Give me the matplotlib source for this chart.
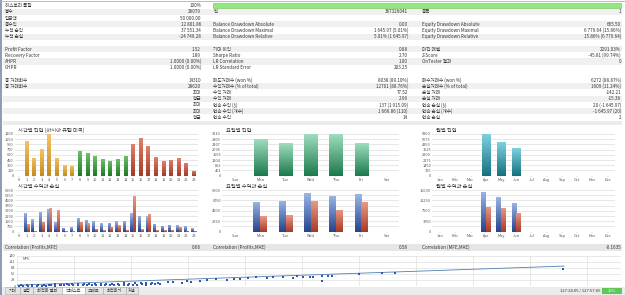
import matplotlib
matplotlib.use('Agg')
import numpy as np
import matplotlib.pyplot as plt
from matplotlib.patches import Rectangle
from matplotlib.colors import LinearSegmentedColormap

plt.rcParams['font.family'] = ['Noto Sans CJK KR', 'DejaVu Sans']

W, H = 625, 295

# ---- summary table (label, value) per column ----
col1 = [('히스토리 품질', '100%'), ('봉수', '26079'), ('입금액', '50 000.00'),
        ('총수익', '12 801.86'), ('누적 순익', '37 551.34'), ('누적 손실', '-24 749.28'),
        ('', ''), ('Profit Factor', '1.52'), ('Recovery Factor', '1.89'),
        ('AHPR', '1.0000 (0.00%)'), ('GHPR', '1.0000 (0.00%)'), ('', ''),
        ('총 거래회수', '14310'), ('총 거래회수', '28620'), ('', '최대'),
        ('', '평균'), ('', '최대'), ('', '최대'), ('', '평균')]
col2 = [('', ''), ('틱', '367326041'), ('', ''),
        ('Balance Drawdown Absolute', '0.00'), ('Balance Drawdown Maximal', '1 645.97 (5.01%)'),
        ('Balance Drawdown Relative', '5.01% (1 645.97)'), ('', ''),
        ('기대 이익', '0.88'), ('Sharpe Ratio', '2.70'), ('LR Correlation', '1.00'),
        ('LR Standard Error', '203.25'), ('', ''),
        ('매도거래수 (won %)', '8038 (89.10%)'), ('수익거래수 (% of total)', '12701 (88.76%)'),
        ('수익 거래', '77.52'), ('수익 거래', '2.96'), ('연속 수익 ($)', '137 (1 915.09)'),
        ('연속 수익 (개수)', '1 666.86 (110)'), ('연속 수익', '14')]
col3 = [('', ''), ('종목', '1'), ('', ''),
        ('Equity Drawdown Absolute', '665.50'), ('Equity Drawdown Maximal', '6 779.64 (15.86%)'),
        ('Equity Drawdown Relative', '15.86% (6 779.64)'), ('', ''),
        ('마진 레벨', '2291.03%'), ('Z-Score', '-45.81 (99.74%)'), ('OnTester 결과', '0'),
        ('', ''), ('', ''),
        ('매수거래수 (won %)', '6272 (88.87%)'), ('손실거래수 (% of total)', '1609 (11.24%)'),
        ('손실 거래', '-142.21'), ('손실 거래', '-15.38'), ('연속 손실 ($)', '20 (-1 645.97)'),
        ('연속 손실 (개수)', '-1 645.97 (20)'), ('연속 손실', '2')]

correlations = [('Correlation (Profits,MFE)', '0.66'),
                ('Correlation (Profits,MAE)', '0.58'),
                ('Correlation (MFE,MAE)', '-0.1635')]

# ---- chart data ----
hours = list(range(24))
hour_entries = [0, 987, 523, 755, 1200, 523, 310, 290, 697, 648, 571, 484,
                435, 474, 571, 919, 1084, 842, 542, 426, 465, 503, 377, 145]
hour_profit = [0, 2736, 1824, 2880, 3264, 1392, 576, 624, 2016, 1728, 1488, 1248,
               1296, 1488, 1584, 2688, 2304, 2208, 1152, 864, 1008, 960, 768, 480]
hour_loss = [0, 1056, 40, 1440, 3408, 3120, 100, 50, 1440, 1200, 432, 240,
             720, 960, 288, 5184, 336, 2496, 240, 240, 240, 624, 150, 50]

weekdays = ['Sun', 'Mon', 'Tue', 'Wed', 'Thu', 'Fri', 'Sat']
day_entries = [0, 2802, 2540, 3205, 3210, 2540, 0]
day_entry_ticks = ['0', '401', '802', '1204', '1605', '2006', '2407', '2809', '3210']
day_profit = [0, 6480, 6696, 8280, 7776, 8064, 0]
day_loss = [0, 3384, 3600, 6624, 4752, 6336, 0]

months = ['Jan', 'Feb', 'Mar', 'Apr', 'May', 'Jun', 'Jul', 'Aug', 'Sep', 'Oct', 'Nov', 'Dec']
month_entries = [0, 0, 0, 5800, 4687, 3811, 0, 0, 0, 0, 0, 0]
month_profit = [0, 0, 0, 14400, 12600, 10440, 0, 0, 0, 0, 0, 0]
month_loss = [0, 0, 0, 9000, 8640, 6840, 0, 0, 0, 0, 0, 0]

# MFE / profit scatter (bottom strip)
mfe = [0.3, 1.1, 1.9, 2.7, 3.5, 4.3, 5.1, 5.9, 6.7, 7.5, 8.3, 9.1, 9.9, 10.7, 11.5, 12.3,
       13.1, 13.9, 14.7, 15.5, 16.3, 17.1, 17.9, 18.7, 19.5, 20.3, 21.1, 21.9, 22.7, 23.5,
       24.3, 25.1,
       0.7, 1.7, 2.7, 3.7, 4.7, 5.7, 6.7, 7.7, 8.7, 9.7, 10.7, 11.7, 12.7, 13.7, 14.7, 15.7,
       16.7, 17.7, 18.7, 19.7, 20.7, 21.7, 22.7, 23.7, 24.7,
       26.5, 27.4, 28.9, 29.8, 30.6, 32.1, 33.3, 35.0, 36.8, 38.0, 39.1, 40.6, 42.0, 43.8,
       45.0, 46.7, 48.5, 49.1, 50.2, 51.4, 52.0, 53.5, 53.5, 54.6, 55.2, 60.1, 64.0, 66.4, 95.8]
profit = [0.8, 1.2, 0.9, 1.6, 1.3, 2.0, 1.8, 2.4, 2.1, 2.9, 2.6, 3.3, 3.0, 3.8, 3.5, 4.2,
          4.0, 4.7, 4.4, 5.2, 4.9, 5.6, 5.4, 6.1, 5.8, 6.6, 6.3, 7.0, 6.8, 7.5, 7.2, 8.0,
          4.5, 5.2, 4.8, 5.9, 6.3, 5.7, 7.0, 6.6, 7.8, 7.2, 8.5, 8.1, 9.3, 8.8, 10.1, 9.6,
          10.8, 10.4, 11.6, 11.1, 12.4, 11.9, 13.2, 12.7, 14.0,
          17, 20, 15.4, 24.6, 20, 23, 27.7, 30.8, 27.7, 33.9, 30.8, 38.5, 40, 35.4,
          40, 43.1, 38.5, 46.2, 43.1, 40.2, 43, 47.6, 24.5, 47.6, 47.6, 54, 58.7, 58.7, 77]
fit_x = [0, 96]
fit_y = [4, 92]

tabs = ['기대', '설정', '최적화 결과', '백테스트', '그래프', '최적화기', '저널']

fig = plt.figure(figsize=(W / 100, H / 100), dpi=100)
fig.patch.set_facecolor('white')
bg = fig.add_axes([0, 0, 1, 1])
bg.set_xlim(0, W)
bg.set_ylim(H, 0)
bg.axis('off')

FS = 3.3
TXT = '#333333'

# table rows
row_h = 6.2
for i in range(len(col1)):
    yc = 5.7 + row_h * i
    if i % 2 == 1 and i != 11:
        bg.add_patch(Rectangle((3, yc - row_h / 2), W - 6, row_h, color='#f0f0f0', lw=0))
    for (lab, val), lx, vx in zip((col1[i], col2[i], col3[i]), (5, 213, 422), (201, 408, 621)):
        if lab:
            bg.text(lx, yc, lab, fontsize=FS, color=TXT, va='center', ha='left')
        if val:
            bg.text(vx, yc, val, fontsize=FS, color=TXT, va='center', ha='right')

# quality bar
bg.add_patch(Rectangle((213, 3.2), 408, 5.2, facecolor='#93e77f', edgecolor='#6cc05a', lw=0.4))
bg.plot([1, 1], [0, 295], color='#7b8aa3', lw=1.2)
bg.plot([0, W], [0.5, 0.5], color='#b0b0b0', lw=0.6)
bg.add_patch(Rectangle((3, 121), W - 6, 4, color='#ececec', lw=0))

# correlation band
bg.add_patch(Rectangle((3, 244), W - 6, 7, color='#e6e6e6', lw=0))
for (lab, val), lx, vx in zip(correlations, (5, 213, 422), (201, 408, 621)):
    bg.text(lx, 247.5, lab, fontsize=FS, color=TXT, va='center')
    bg.text(vx, 247.5, val, fontsize=FS, color=TXT, va='center', ha='right')

# chart titles
titles = [(18, 130, '시간별 진입 (아시아 유럽 미국)'), (18, 186, '시간별 수익과 손실'),
          (226, 130, '요일별 진입'), (226, 186, '요일별 수익과 손실'),
          (436, 130, '월별 진입'), (436, 186, '월별 수익과 손실')]
for x, y, t in titles:
    bg.text(x, y, t, fontsize=3.8, color='#333333', va='center')


def px_axes(x0, y0, x1, y1):
    return fig.add_axes([x0 / W, 1 - y1 / H, (x1 - x0) / W, (y1 - y0) / H])


def grad_bars(ax, x, h, width, top, bottom):
    bars = ax.bar(x, h, width, color='none', edgecolor='none', zorder=3)
    cmap = LinearSegmentedColormap.from_list('g', [bottom, top])
    grad = np.linspace(0, 1, 64).reshape(-1, 1)
    for b in bars:
        if b.get_height() <= 0:
            continue
        x0 = b.get_x()
        im = ax.imshow(grad, cmap=cmap, origin='lower', aspect='auto', zorder=3,
                       extent=[x0, x0 + b.get_width(), 0, b.get_height()])
        im.set_clip_path(b)


def style(ax, cats, ymax, grid_step, label_step, labels=None):
    ax.set_facecolor('none')
    for s in ax.spines.values():
        s.set_visible(False)
    ax.set_xlim(-0.5, len(cats) - 0.5)
    ax.set_ylim(0, ymax)
    for g in np.arange(0, ymax + 1, grid_step):
        ax.axhline(g, color='#d4d4d4', lw=0.4, zorder=1)
    ax.axhline(0, color='#a0a0a0', lw=0.5, zorder=4)
    ax.set_xticks(range(len(cats)))
    ax.set_xticklabels(cats)
    ticks = np.arange(0, ymax + 1, label_step)
    ax.set_yticks(ticks)
    ax.set_yticklabels(labels if labels else [str(int(t)) for t in ticks])
    ax.tick_params(axis='both', labelsize=2.8, colors='#555555', pad=1)
    ax.tick_params(axis='x', length=1, width=0.3, color='#a0a0a0')
    ax.tick_params(axis='y', length=0)


def pl_bars(ax, cats, prof, loss, w):
    x = np.arange(len(cats))
    grad_bars(ax, x - w / 2, prof, w, '#9bb6e6', '#26438c')
    grad_bars(ax, x + w / 2, loss, w, '#e89a86', '#a83a24')


# hourly entries
ax = px_axes(15.2, 134, 197.8, 175.7)
x = np.array(hours)
grad_bars(ax, x[:8], hour_entries[:8], 0.52, '#f2c464', '#c58a1c')
grad_bars(ax, x[8:15], hour_entries[8:15], 0.52, '#6cc06a', '#1f7a25')
grad_bars(ax, x[15:], hour_entries[15:], 0.52, '#e0806c', '#a43a28')
style(ax, hours, 1200, 150, 150)

ax = px_axes(15.2, 190, 197.8, 231.7)
pl_bars(ax, hours, hour_profit, hour_loss, 0.36)
style(ax, hours, 6000, 750, 750)

# weekday
ax = px_axes(222.4, 134, 399.3, 175.7)
grad_bars(ax, np.arange(7), day_entries, 0.53, '#9edcbe', '#1d7a4e')
style(ax, weekdays, 3210, 401.25, 401.25, day_entry_ticks)

ax = px_axes(222.4, 190, 399.3, 231.7)
pl_bars(ax, weekdays, day_profit, day_loss, 0.27)
style(ax, weekdays, 9000, 1125, 2250)

# monthly
ax = px_axes(432.4, 134, 615.3, 175.7)
grad_bars(ax, np.arange(12), month_entries, 0.55, '#7fd0dd', '#14717f')
style(ax, months, 5800, 725, 725)

ax = px_axes(432.4, 190, 615.3, 231.7)
pl_bars(ax, months, month_profit, month_loss, 0.3)
style(ax, months, 15000, 1875, 3750)

# scatter strip
ax = px_axes(17, 255.7, 621, 286)
ax.set_facecolor('none')
for s in ax.spines.values():
    s.set_visible(False)
ax.set_xlim(0, 106)
ax.set_ylim(0, 140)
for g in range(0, 141, 28):
    ax.axhline(g, color='#d8d8d8', lw=0.4, zorder=1)
for g in range(0, 106, 10):
    ax.axvline(g, color='#d8d8d8', lw=0.4, zorder=1)
ax.scatter(mfe, profit, s=1.8, marker='s', color='#2e58b0', lw=0, zorder=3)
ax.plot(fit_x, fit_y, color='#4f7fb5', lw=0.6, zorder=2)
ax.set_xticks([])
ax.set_yticks(range(0, 141, 28))
ax.tick_params(axis='y', labelsize=2.8, colors='#555555', pad=1, length=0)
ax.text(1, 125, 'MFE', fontsize=2.8, color='#555555', va='center')

# tab bar
bg.add_patch(Rectangle((0, 286.5), W, 8.5, color='#ececec', lw=0))
edges = [5, 20, 33, 62, 85, 103, 126, 138]
for i, t in enumerate(tabs):
    x0, x1 = edges[i], edges[i + 1]
    fc = 'white' if t == '백테스트' else '#e4e4e4'
    bg.add_patch(Rectangle((x0, 287), x1 - x0, 7, facecolor=fc, edgecolor='#a8a8a8', lw=0.4))
    bg.text((x0 + x1) / 2, 290.7, t, fontsize=3.0, color=TXT, ha='center', va='center')
bg.text(600, 291, '127:24:05 / 127:57:06', fontsize=3.0, color=TXT, ha='right', va='center')
bg.add_patch(Rectangle((602, 287.5), 20, 6.5, color='#5fc65a', lw=0))
bg.text(612, 290.8, '10%', fontsize=3.0, color='white', ha='center', va='center')

fig.savefig('out.png', dpi=100)
